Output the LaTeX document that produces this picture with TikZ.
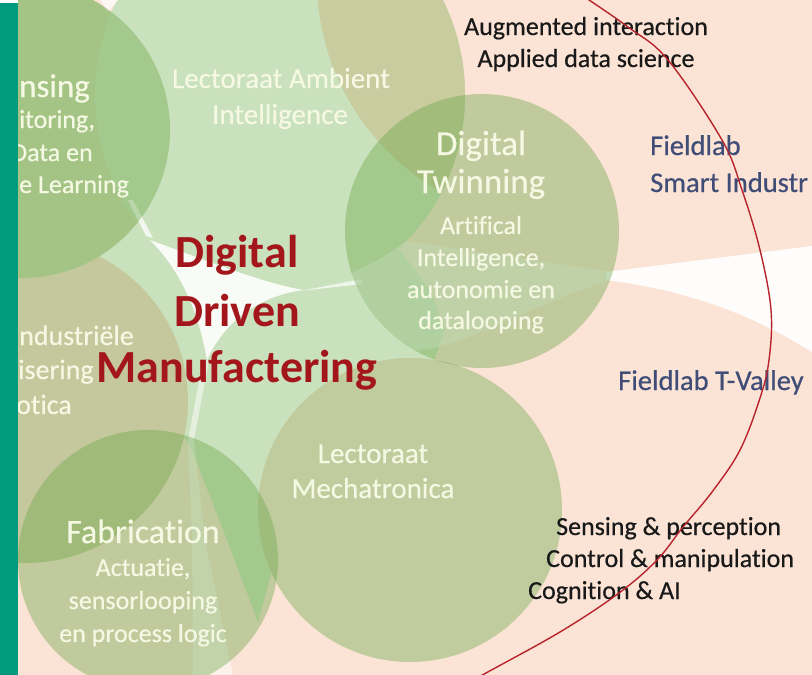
\documentclass[tikz,border=0pt]{standalone}
\usepackage{fontspec}
\setmainfont{Carlito}[Ligatures=NoCommon]
\newfontfamily\lblfont{Carlito}[Ligatures=NoCommon, FakeBold=0.5]
\definecolor{peach}{HTML}{FBE3D5}
\definecolor{mint}{HTML}{C9E1BC}
\definecolor{tanT}{HTML}{C8CC9F}
\definecolor{tanL}{HTML}{C4C89C}
\definecolor{tanM}{HTML}{C1CC9E}
\definecolor{sensunder}{HTML}{C9D9AE}
\definecolor{gsm}{HTML}{6AA548}
\definecolor{cream}{HTML}{F5F8E2}
\definecolor{titlered}{HTML}{A3161C}
\definecolor{fieldblue}{HTML}{3F4D77}
\definecolor{tealbar}{HTML}{009B7E}
\definecolor{redline}{HTML}{B8242B}
\newcommand\fsz[1]{\lblfont\fontsize{#1}{#1}\selectfont}
\tikzset{
  lbl/.style={text=cream, inner sep=0pt, anchor=base},
  lblw/.style={lbl, anchor=base west},
  ttl/.style={text=titlered, inner sep=0pt, anchor=base, font=\normalfont\fontsize{46}{46}\selectfont\bfseries},
  blk/.style={text=black!90, inner sep=0pt, anchor=base, font=\fsz{26}},
  blkw/.style={blk, anchor=base west},
  fld/.style={text=fieldblue, inner sep=0pt, anchor=base west, font=\fsz{28.5}},
  smallcirc/.style={fill=gsm, fill opacity=0.4},
  gap/.style={fill=white}
}
\begin{document}
\begin{tikzpicture}[x=1pt,y=-1pt]
\useasboundingbox (0,0) rectangle (812,675);
% background
\fill[peach] (0,0) rectangle (812,675);
% central mint hub
\fill[mint] (18,190) -- (95,170) -- (150,230) -- (240,262) -- (320,262) -- (400,250)
  -- (430,290) -- (445,330) -- (430,372) -- (370,395) -- (310,430) -- (280,500)
  -- (275,560) -- (258,622) -- (227,540) -- (190,445) -- (170,420) -- (18,420) -- cycle;
% Lectoraat Mechatronica
\fill[tanM] (410,510) circle[radius=152pt];
% left circle
\fill[tanL] (26,401) circle[radius=162pt];
% sensing under-fill
\fill[sensunder] (22,130) circle[radius=148pt];
% Lectoraat Ambient Intelligence
\fill[mint] (280,95) ellipse[x radius=185pt, y radius=200pt];
\begin{scope}
  \clip (280,95) ellipse[x radius=185pt, y radius=200pt];
  \fill[tanT] (560,-20) circle[radius=243pt];
\end{scope}
% white gaps
\fill[gap, opacity=0.88] (150,240) .. controls (210,262) and (260,282) .. (303,290)
  .. controls (260,296) and (225,320) .. (207,360)
  .. controls (200,320) and (185,275) .. cycle;
\fill[gap, opacity=0.7] (300,291) -- (362,279) -- (362,284) -- cycle;
\fill[gap, opacity=0.75] (146,236) -- (128,200) -- (133,200) -- (153,238) -- cycle;
\begin{scope}
  \clip (482,231) circle[radius=137pt];
  \fill[gap, opacity=0.45] (303,290) .. controls (340,280) and (380,262) .. (406,241)
    -- (612,272) -- (612,280) .. controls (540,300) and (470,345) .. (420,350)
    .. controls (370,352) and (330,320) .. (303,292) -- cycle;
\end{scope}
\fill[gap, opacity=0.95] (606,272) -- (812,246) -- (812,352)
  .. controls (760,320) and (700,292) .. (606,280) -- cycle;
\fill[gap, opacity=0.5] (203,360) -- (188,440) -- (192,540) -- (193,675) -- (233,675)
  -- (205,540) -- (194,440) -- (209,360) -- cycle;
\fill[gap, opacity=0.7] (100,0) -- (118,0) -- (108,12) -- cycle;
% small circles
\fill[smallcirc] (22,130) circle[radius=148pt];
\fill[smallcirc] (482,231) circle[radius=137pt];
\fill[smallcirc] (148,560) circle[radius=130pt];
% labels inside circles
\node[lblw, font=\fsz{33}] (s1) at (19,97) {nsing};
\node[lblw, font=\fsz{26}] (s2) at (19,128) {itoring,};
\node[lblw, font=\fsz{26}] (s3) at (11,161) {Data en};
\node[lblw, font=\fsz{26}] (s4) at (19,193) {e Learning};
\node[lbl, font=\fsz{29}] (amb1) at (281,88) {Lectoraat Ambient};
\node[lbl, font=\fsz{29}] (amb2) at (280,124) {Intelligence};
\node[lbl, font=\fsz{35}] (dt1) at (481,155) {Digital};
\node[lbl, font=\fsz{35}] (dt2) at (481,193) {Twinning};
\node[lbl, font=\fsz{26}] (dt3) at (481,234) {Artifical};
\node[lbl, font=\fsz{26}] (dt4) at (481,266) {Intelligence,};
\node[lbl, font=\fsz{26}] (dt5) at (481,298) {autonomie en};
\node[lbl, font=\fsz{26}] (dt6) at (481,329) {datalooping};
\node[lblw, font=\fsz{28}] (l1) at (19,345) {ndustriële};
\node[lblw, font=\fsz{28}] (l2) at (18,379) {isering};
\node[lblw, font=\fsz{28}] (l3) at (16,414) {otica};
\node[lbl, font=\fsz{29}] (m1) at (373,463) {Lectoraat};
\node[lbl, font=\fsz{29}] (m2) at (373,498) {Mechatronica};
\node[lbl, font=\fsz{34}] (f1) at (143,543) {Fabrication};
\node[lbl, font=\fsz{26}] (f2) at (143,576) {Actuatie,};
\node[lbl, font=\fsz{26}] (f3) at (143,609) {sensorlooping};
\node[lbl, font=\fsz{26}] (f4) at (143,642) {en process logic};
% title
\node[ttl] (t1) at (237,267) {Digital};
\node[ttl] (t2) at (237,326) {Driven};
\node[ttl] (t3) at (237,382) {Manufactering};
% outer texts
\node[blk] (r1) at (586,35) {Augmented interaction};
\node[blk] (r2) at (586,67) {Applied data science};
\node[fld] (fl1) at (650,155) {Fieldlab};
\node[fld] (fl2) at (650,192) {Smart Industr};
\node[fld] (fl3) at (618,390) {Fieldlab T-Valley};
\node[blkw] (k1) at (556,535) {Sensing \& perception};
\node[blkw] (k2) at (546,567) {Control \& manipulation};
\node[blkw] (k3) at (528,599) {Cognition \& AI};
% red arc
\draw[redline, line width=1.4pt] plot[smooth, tension=0.6] coordinates {(583,-4) (628,27)
  (668,60) (722,140) (742,190) (760,250) (771,310) (769,360) (760,398) (740,450)
  (712,492) (683,527) (657,560) (619,593) (560,632) (486,673) (474,680)};
% teal bar
\fill[white] (0,0) rectangle (18,3);
\fill[tealbar] (0,3) rectangle (18,675);
\end{tikzpicture}
\end{document}
